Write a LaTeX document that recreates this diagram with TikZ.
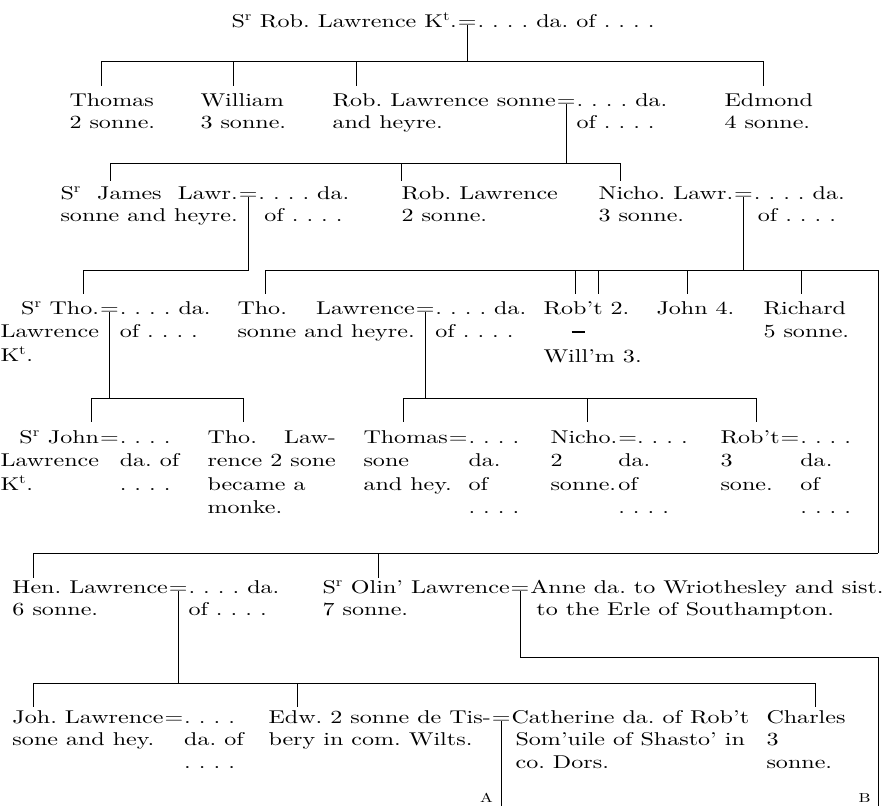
\documentclass[tikz,border=0pt]{standalone}
\usepackage{fontspec}
\setmainfont{lmroman10-regular.otf}[FakeStretch=1.3]
\newcommand{\chartfont}{\fontsize{18.5}{22.5}\selectfont\frenchspacing}
\newcommand{\loosefont}{\fontsize{18.5}{23.5}\selectfont\frenchspacing}
\newcommand{\Sr}{S\textsuperscript{r}}
\newcommand{\Kt}{K\textsuperscript{t}}
\newsavebox{\rowbox}
% lines of one entry, hung from the first line's baseline
\newcommand{\rows}[1]{\begin{tabular}[t]{@{}l@{}}#1\end{tabular}}
% a first line spread out, or set flush right, to the width of a longer one
\newcommand{\spreadto}[2]{\sbox{\rowbox}{#2}\makebox[\wd\rowbox][s]{#1}}
\newcommand{\flushto}[2]{\sbox{\rowbox}{#2}\makebox[\wd\rowbox][r]{#1}}

\begin{document}
\begin{tikzpicture}[x=1pt,y=-1pt,line width=1pt,
    every node/.style={inner sep=0pt,anchor=base west,font=\chartfont},
    loose/.style={font=\loosefont},
    letter/.style={font=\fontsize{13}{13}\selectfont}]
\useasboundingbox (0,0) rectangle (883,806);

%% ---------------- Sir Robert and his four sons ----------------
\node (robert)  at (231,27) {\Sr{} Rob. Lawrence \Kt.};
\node (m0)      at (robert.base east) {=};
\node (robertw) at (m0.base east) {. . . . da. of . . . .};
\coordinate (bar1w) at (101,61);
\coordinate (bar1e) at (763,61);
\draw ([yshift=2.5pt]m0.south) -- (m0 |- bar1w);
\draw (bar1w) -- (bar1e);
\draw (bar1w) -- ++(0,25);
\draw (233,61) -- ++(0,25);
\draw (356,61) -- ++(0,25);
\draw (bar1e) -- ++(0,25);

\node (thomas)  at (69,106)  {\rows{Thomas\\2 sonne.}};
\node (william) at (200,106) {\rows{William\\3 sonne.}};
\node (robII)   at (332,106) {\rows{Rob. Lawrence sonne\\and heyre.}};
\node (m1)      at (robII.base east) {=};
\node (robIIw)  at (m1.base east) {\rows{. . . . da.\\of . . . .}};
\node (edmond)  at (724,106) {\rows{Edmond\\4 sonne.}};

%% ---------------- Rob. Lawrence's sons ----------------
\coordinate (bar2w) at (110,163);
\coordinate (bar2e) at (620,163);
\draw ([yshift=2.5pt]m1.south) -- (m1 |- bar2w);
\draw (bar2w) -- (bar2e);
\draw (bar2w) -- ++(0,18);
\draw (401,163) -- ++(0,18);
\draw (bar2e) -- ++(0,18);

\node (james)  at (60,199)  {\rows{\spreadto{\Sr{} James Lawr.}{sonne and heyre.}\\sonne and heyre.}};
\node (m2)     at (james.base east) {=};
\node (jamesw) at (m2.base east) {\rows{. . . . da.\\\hspace*{6pt}of . . . .}};
\node (robIII) at (401,199) {\rows{Rob. Lawrence\\2 sonne.}};
\node (nicho)  at (598,199) {\rows{Nicho. Lawr.\\3 sonne.}};
\node (m3)     at (nicho.base east) {=};
\node (nichow) at (m3.base east) {\rows{. . . . da.\\\hspace*{4pt}of . . . .}};

%% ---------------- sons of Sir James and of Nicho. ----------------
\coordinate (bar3w) at (83,270);
\coordinate (bar3m) at (265,270);
\coordinate (bar3e) at (878,270);
\coordinate (bar5e) at (878,553);
\draw ([yshift=2.5pt]m2.south) |- (bar3w);
\draw ([yshift=2.5pt]m3.south) -- (m3 |- bar3e);
\draw (bar3m) -- (bar3e) -- (bar5e);
\draw (bar3w) -- ++(0,24);
\draw (bar3m) -- ++(0,24);
\draw (575,270) -- ++(0,24);
\draw (598,270) -- ++(0,24);
\draw (687,270) -- ++(0,24);
\draw (801,270) -- ++(0,24);

\node[loose] (sirtho)  at (0,314)   {\rows{\flushto{\Sr{} Tho.}{Lawrence}\\Lawrence\\\Kt.}};
\node (m4)             at (sirtho.base east) {=};
\node[loose] (sirthow) at (m4.base east) {\rows{. . . . da.\\of . . . .}};
\node[loose] (tho)     at (237,314) {\rows{\spreadto{Tho. Lawrence}{sonne and heyre.}\\sonne and heyre.}};
\node (m5)             at (tho.base east) {=};
\node[loose] (thow)    at (m5.base east) {\rows{. . . . da.\\of . . . .}};
\node (robt)   at (543,314) {Rob't 2.};
\node (dash)   at (571,338) {\rule[5pt]{13pt}{1.6pt}};
\node (willm)  at (543,362) {Will'm 3.};
\node (john)   at (656,314) {John 4.};
\node[loose] (richard) at (763,314) {\rows{Richard\\5 sonne.}};

%% ---------------- grandsons ----------------
\coordinate (bar4w) at (91,398);
\coordinate (bar4e) at (243,398);
\coordinate (bar4m) at (403,398);
\coordinate (bar4f) at (756,398);
\draw ([yshift=2.5pt]m4.south) -- (m4 |- bar4w);
\draw ([yshift=2.5pt]m5.south) -- (m5 |- bar4m);
\draw (bar4w) -- (bar4e);
\draw (bar4m) -- (bar4f);
\draw (bar4w) -- ++(0,24);
\draw (bar4e) -- ++(0,24);
\draw (bar4m) -- ++(0,24);
\draw (587,398) -- ++(0,24);
\draw (bar4f) -- ++(0,24);

\node[loose] (sirjohn)   at (0,443)   {\rows{\flushto{\Sr{} John}{Lawrence}\\Lawrence\\\Kt.}};
\node (m6)               at (sirjohn.base east) {=};
\node[loose] (sirjohnw)  at (m6.base east) {\rows{. . . .\\da. of\\. . . .}};
\node[loose] (tholaw)    at (207,443) {\rows{\spreadto{Tho. Law-}{rence 2 sone}\\rence 2 sone\\became a\\monke.}};
\node[loose] (thomasII)  at (363,443) {\rows{Thomas\\sone\\\rlap{and hey.}}};
\node (m7)               at (thomasII.base east) {=};
\node[loose] (thomasIIw) at (m7.base east) {\rows{. . . .\\da.\\of\\. . . .}};
\node[loose] (nichoII)   at (550,443) {\rows{Nicho.\hspace{7pt}\\2\\sonne.}};
\node (m8)               at (nichoII.base east) {=};
\node[loose] (nichoIIw)  at (m8.base west) {\rows{\hphantom{=}. . . .\\da.\\of\\. . . .}};
\node[loose] (robtII)    at (720,443) {\rows{Rob't\\3\\sone.}};
\node (m9)               at (robtII.base east) {=};
\node[loose] (robtIIw)   at (m9.base east) {\rows{. . . .\\da.\\of\\. . . .}};

%% ---------------- 6 and 7 sonne ----------------
\coordinate (bar5w) at (33,553);
\draw (bar5w) -- (bar5e);
\draw (bar5w) -- ++(0,25);
\draw (378,553) -- ++(0,25);

\node (hen)   at (12,593)  {\rows{Hen. Lawrence\\6 sonne.}};
\node (m10)   at (hen.base east) {=};
\node (henw)  at (m10.base east) {\rows{. . . . da.\\of . . . .}};
\node (olin)  at (322,593) {\rows{\Sr{} Olin' Lawrence\\7 sonne.}};
\node (m11)   at (olin.base east) {=};
\node (olinw) at (m11.base east) {\rows{Anne da. to Wriothesley and sist.\\\hspace*{6pt}to the Erle of Southampton.}};

\coordinate (olinbar) at (878,657);
\coordinate (offB) at (878,806);
\draw ([yshift=2.5pt]m11.south) |- (olinbar) -- (offB);

%% ---------------- Hen. Lawrence's sons ----------------
\coordinate (bar6w) at (33,683);
\coordinate (bar6e) at (815,683);
\draw ([yshift=2.5pt]m10.south) -- (m10 |- bar6w);
\draw (bar6w) -- (bar6e);
\draw (bar6w) -- ++(0,24);
\draw (297,683) -- ++(0,24);
\draw (bar6e) -- ++(0,24);

\node (joh)     at (12,723)  {\rows{Joh. Lawrence\\sone and hey.}};
\node (m12)     at (joh.base east) {=};
\node (johw)    at (m12.base east) {\rows{. . . .\\da. of\\. . . .}};
\node (edw)     at (268,723) {\rows{Edw. 2 sonne de Tis-\\bery in com. Wilts.}};
\node (m13)     at (edw.base east) {=};
\node (edww)    at (m13.base east) {\rows{Catherine da. of Rob't\\\hspace*{4pt}Som'uile of Shasto' in\\\hspace*{4pt}co. Dors.}};
\node (charles) at (766,723) {\rows{Charles\\3\\sonne.}};
\draw ([yshift=2.5pt]m13.south) -- (m13 |- offB);

\node[letter,anchor=base east] (markA) at ([xshift=-8pt]m13.south |- 0,802) {A};
\node[letter,anchor=base east] (markB) at ([xshift=-7pt]offB |- 0,802) {B};
\end{tikzpicture}
\end{document}
